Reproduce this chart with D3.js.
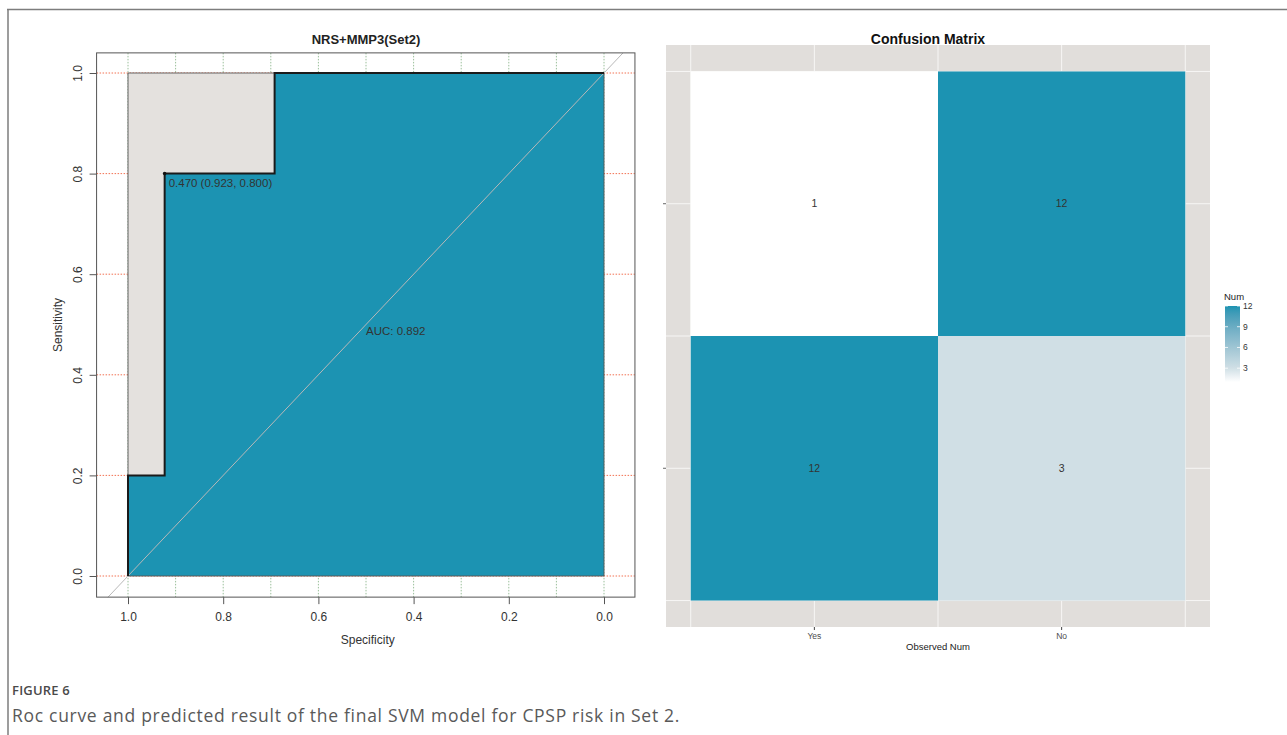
<!DOCTYPE html>
<html>
<head>
<meta charset="utf-8">
<script src="https://cdn.jsdelivr.net/npm/d3@7"></script>
<style>
  body { margin: 0; background: #fff; }
  text { font-family: "Liberation Sans", Arial, sans-serif; }
</style>
</head>
<body>
<svg id="fig" width="1287" height="735"></svg>
<script>
// ---------- ROC curve data (specificity, sensitivity) ----------
const rocSpecificity = [1, 1, 0.923, 0.923, 0.692, 0.692, 0];
const rocSensitivity = [0, 0.2, 0.2, 0.8, 0.8, 1, 1];
const bestThreshold = 0.470;
const bestSpecificity = 0.923;
const bestSensitivity = 0.800;
const aucValue = 0.892;
const specTicks = [1.0, 0.8, 0.6, 0.4, 0.2, 0.0];
const sensTicks = [0.0, 0.2, 0.4, 0.6, 0.8, 1.0];
const specGrid = [1.0, 0.9, 0.8, 0.7, 0.6, 0.5, 0.4, 0.3, 0.2, 0.1, 0.0];

// ---------- Confusion matrix data ----------
const observedLevels = ["Yes", "No"];
const predictedLevels = ["No", "Yes"];          // rows, top to bottom
const cellCounts = [[1, 12], [12, 3]];          // cellCounts[row][col]
const legendTicks = [3, 6, 9, 12];

const TEAL = "#1c93b2";
const svg = d3.select("#fig");

// ---------- figure frame ----------
svg.append("line").attr("x1", 7).attr("x2", 1287).attr("y1", 9.5).attr("y2", 9.5)
  .attr("stroke", "#7d7d7d").attr("stroke-width", 1.5);
svg.append("line").attr("x1", 8).attr("x2", 8).attr("y1", 9).attr("y2", 735)
  .attr("stroke", "#7d7d7d").attr("stroke-width", 1.5);

// =====================================================================
// ROC panel
// =====================================================================
const x = d3.scaleLinear().domain([1, 0]).range([128, 604]);
const y = d3.scaleLinear().domain([0, 1]).range([576, 73]);
const box = { x0: x(1.066), x1: x(-0.065), y0: y(1.04), y1: y(-0.042) };

const roc = svg.append("g");
roc.append("clipPath").attr("id", "rocClip")
  .append("rect").attr("x", box.x0).attr("y", box.y0)
  .attr("width", box.x1 - box.x0).attr("height", box.y1 - box.y0);

const inner = roc.append("g").attr("clip-path", "url(#rocClip)");

// dotted grid
inner.selectAll("line.vg").data(specGrid).join("line")
  .attr("x1", d => x(d)).attr("x2", d => x(d))
  .attr("y1", box.y0).attr("y2", box.y1)
  .attr("stroke", "#8fb88f").attr("stroke-width", 0.9).attr("stroke-dasharray", "1.5,1.5");
inner.selectAll("line.hg").data(sensTicks).join("line")
  .attr("x1", box.x0).attr("x2", box.x1)
  .attr("y1", d => y(d)).attr("y2", d => y(d))
  .attr("stroke", "#f0623f").attr("stroke-width", 0.9).attr("stroke-dasharray", "1.5,1.5");

// maximum-AUC polygon (grey) and AUC polygon (teal)
const maxPoly = [[1, 0], [1, 1], [0, 1], [0, 0]];
const line = d3.line().x(d => x(d[0])).y(d => y(d[1]));
inner.append("path").attr("d", line(maxPoly) + "Z").attr("fill", "#e4e1de");

const rocPts = rocSpecificity.map((s, i) => [s, rocSensitivity[i]]);
inner.append("path").attr("d", line(rocPts.concat([[0, 0]])) + "Z").attr("fill", TEAL);
inner.append("path").attr("d", line(maxPoly) + "Z")
  .attr("fill", "none").attr("stroke", "#555").attr("stroke-width", 0.9);

// chance diagonal
inner.append("line")
  .attr("x1", x(1.2)).attr("y1", y(-0.2)).attr("x2", x(-0.2)).attr("y2", y(1.2))
  .attr("stroke", "#b8b8b8").attr("stroke-width", 1);

// ROC curve
inner.append("path").attr("d", line(rocPts))
  .attr("fill", "none").attr("stroke", "#1a1a1a").attr("stroke-width", 2);

// best threshold
roc.append("circle").attr("cx", x(bestSpecificity)).attr("cy", y(bestSensitivity))
  .attr("r", 1.8).attr("fill", "#111");
roc.append("text").attr("x", x(bestSpecificity) + 4).attr("y", y(bestSensitivity) + 13)
  .attr("font-size", 11.5).attr("fill", "#333")
  .text(`${bestThreshold.toFixed(3)} (${bestSpecificity.toFixed(3)}, ${bestSensitivity.toFixed(3)})`);

// AUC label
roc.append("text").attr("x", x(0.5)).attr("y", y(0.5) + 10)
  .attr("font-size", 11.5).attr("fill", "#333")
  .text(`AUC: ${aucValue.toFixed(3)}`);

// box
roc.append("rect").attr("x", box.x0).attr("y", box.y0)
  .attr("width", box.x1 - box.x0).attr("height", box.y1 - box.y0)
  .attr("fill", "none").attr("stroke", "#555").attr("stroke-width", 1);

// axes
const fmt = d3.format(".1f");
const yAxis = roc.append("g").attr("transform", `translate(${box.x0},0)`)
  .call(d3.axisLeft(y).tickValues(sensTicks).tickFormat(fmt).tickSize(7).tickPadding(0));
yAxis.select(".domain").remove();
yAxis.selectAll(".tick line").attr("stroke", "#555");
yAxis.selectAll(".tick text")
  .attr("x", 0).attr("y", 0).attr("dy", null)
  .attr("text-anchor", "middle")
  .attr("transform", "translate(-19,0) rotate(-90)")
  .attr("dominant-baseline", "central")
  .attr("font-family", "Liberation Sans, Arial, sans-serif")
  .attr("font-size", 12).attr("fill", "#333");

const xAxis = roc.append("g").attr("transform", `translate(0,${box.y1})`)
  .call(d3.axisBottom(x).tickValues(specTicks).tickFormat(fmt).tickSize(7).tickPadding(8));
xAxis.select(".domain").remove();
xAxis.selectAll(".tick line").attr("stroke", "#555");
xAxis.selectAll(".tick text")
  .attr("font-family", "Liberation Sans, Arial, sans-serif")
  .attr("font-size", 12).attr("fill", "#333");

roc.append("text").attr("x", (box.x0 + box.x1) / 2 + 2).attr("y", 644)
  .attr("text-anchor", "middle").attr("font-size", 12).attr("fill", "#333")
  .text("Specificity");
roc.append("text").attr("transform", `translate(62,${(box.y0 + box.y1) / 2}) rotate(-90)`)
  .attr("text-anchor", "middle").attr("font-size", 12).attr("fill", "#333")
  .text("Sensitivity");
roc.append("text").attr("x", 366).attr("y", 44)
  .attr("text-anchor", "middle").attr("font-size", 13).attr("font-weight", "bold")
  .attr("fill", "#222").text("NRS+MMP3(Set2)");

// =====================================================================
// Confusion matrix panel
// =====================================================================
const cx = d3.scaleBand().domain(observedLevels).range([666, 1210]).paddingInner(0).paddingOuter(0.1);
const cy = d3.scaleBand().domain(predictedLevels).range([45, 627]).paddingInner(0).paddingOuter(0.1);
const fill = d3.scaleLinear().domain([1, 3, 12]).range(["#ffffff", "#d0dfe5", TEAL])
  .interpolate(d3.interpolateLab);

const cm = svg.append("g");
cm.append("rect").attr("x", 666).attr("y", 45).attr("width", 1210 - 666).attr("height", 627 - 45)
  .attr("fill", "#e1dedb");

// grid lines at category centres and tile edges
const xGrid = [];
observedLevels.forEach(d => { xGrid.push(cx(d), cx(d) + cx.bandwidth() / 2); });
xGrid.push(cx(observedLevels[observedLevels.length - 1]) + cx.bandwidth());
const yGrid = [];
predictedLevels.forEach(d => { yGrid.push(cy(d), cy(d) + cy.bandwidth() / 2); });
yGrid.push(cy(predictedLevels[predictedLevels.length - 1]) + cy.bandwidth());

cm.selectAll("line.gx").data(xGrid).join("line")
  .attr("x1", d => d).attr("x2", d => d).attr("y1", 45).attr("y2", 627)
  .attr("stroke", "#f7f6f5").attr("stroke-width", 1);
cm.selectAll("line.gy").data(yGrid).join("line")
  .attr("x1", 666).attr("x2", 1210).attr("y1", d => d).attr("y2", d => d)
  .attr("stroke", "#f7f6f5").attr("stroke-width", 1);

const cells = [];
predictedLevels.forEach((p, r) => observedLevels.forEach((o, c) =>
  cells.push({ p, o, n: cellCounts[r][c] })));

cm.selectAll("rect.tile").data(cells).join("rect")
  .attr("x", d => cx(d.o)).attr("y", d => cy(d.p))
  .attr("width", cx.bandwidth()).attr("height", cy.bandwidth())
  .attr("fill", d => fill(d.n));
cm.selectAll("text.cell").data(cells).join("text")
  .attr("x", d => cx(d.o) + cx.bandwidth() / 2)
  .attr("y", d => cy(d.p) + cy.bandwidth() / 2)
  .attr("dy", "0.35em").attr("text-anchor", "middle")
  .attr("font-size", 10.5).attr("fill", "#333").text(d => d.n);

// axes ticks
cm.selectAll("line.tx").data(observedLevels).join("line")
  .attr("x1", d => cx(d) + cx.bandwidth() / 2).attr("x2", d => cx(d) + cx.bandwidth() / 2)
  .attr("y1", 627).attr("y2", 630).attr("stroke", "#444");
cm.selectAll("line.ty").data(predictedLevels).join("line")
  .attr("x1", 663).attr("x2", 666)
  .attr("y1", d => cy(d) + cy.bandwidth() / 2).attr("y2", d => cy(d) + cy.bandwidth() / 2)
  .attr("stroke", "#666");
cm.selectAll("text.xl").data(observedLevels).join("text")
  .attr("x", d => cx(d) + cx.bandwidth() / 2).attr("y", 639)
  .attr("text-anchor", "middle").attr("font-size", 8.5).attr("fill", "#4d4d4d").text(d => d);
cm.append("text").attr("x", 938).attr("y", 650).attr("text-anchor", "middle")
  .attr("font-size", 9.5).attr("fill", "#222").text("Observed Num");
cm.append("text").attr("x", 928).attr("y", 44).attr("text-anchor", "middle")
  .attr("font-size", 14).attr("font-weight", "bold").attr("fill", "#111").text("Confusion Matrix");

// colour bar legend
const ly = d3.scaleLinear().domain([1, 12]).range([382, 306]);
const grad = svg.append("defs").append("linearGradient").attr("id", "numGrad")
  .attr("x1", 0).attr("y1", 1).attr("x2", 0).attr("y2", 0);
d3.range(0, 1.0001, 0.05).forEach(t => {
  const v = 1 + t * 11;
  grad.append("stop").attr("offset", t).attr("stop-color", fill(v));
});
cm.append("rect").attr("x", 1225).attr("y", ly(12)).attr("width", 15).attr("height", ly(1) - ly(12))
  .attr("fill", "url(#numGrad)");
legendTicks.forEach(v => {
  cm.append("line").attr("x1", 1225).attr("x2", 1228).attr("y1", ly(v)).attr("y2", ly(v))
    .attr("stroke", "#fff").attr("stroke-width", 0.8);
  cm.append("line").attr("x1", 1237).attr("x2", 1240).attr("y1", ly(v)).attr("y2", ly(v))
    .attr("stroke", "#fff").attr("stroke-width", 0.8);
});
cm.selectAll("text.lt").data(legendTicks).join("text")
  .attr("x", 1243).attr("y", d => ly(d)).attr("dy", "0.35em")
  .attr("font-size", 8.5).attr("fill", "#333").text(d => d);
cm.append("text").attr("x", 1224).attr("y", 300).attr("font-size", 9.5).attr("fill", "#222").text("Num");

// =====================================================================
// caption
// =====================================================================
svg.append("text").attr("x", 12).attr("y", 695)
  .style("font-family", "'Open Sans', sans-serif").attr("font-size", 13).attr("font-weight", 600)
  .attr("letter-spacing", 0.2)
  .attr("fill", "#4a4a4a").text("FIGURE 6");
svg.append("text").attr("x", 12).attr("y", 722)
  .style("font-family", "'Open Sans', sans-serif").attr("font-size", 17.5)
  .attr("letter-spacing", 0.7)
  .attr("fill", "#595959").text("Roc curve and predicted result of the final SVM model for CPSP risk in Set 2.");
</script>
</body>
</html>
